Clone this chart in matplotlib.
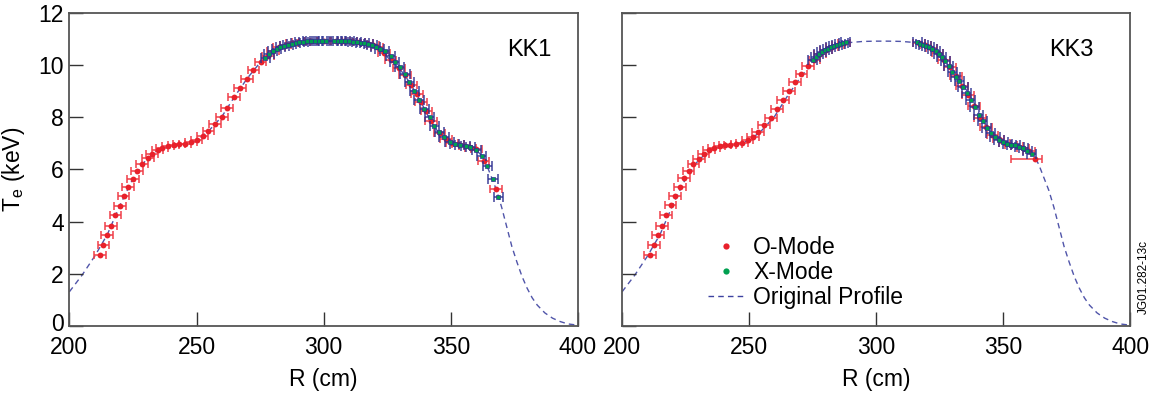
import matplotlib
matplotlib.use("Agg")
import matplotlib.pyplot as plt
from matplotlib.lines import Line2D
from matplotlib.transforms import ScaledTranslation

plt.rcParams['font.family'] = ['Liberation Sans', 'DejaVu Sans']
plt.rcParams['mathtext.default'] = 'regular'

# ---------------- data ----------------
profile_R = [200, 205, 210, 215, 220, 225, 230, 235, 240, 245, 250, 255, 260, 265, 270,
             275, 280, 285, 290, 295, 300, 305, 310, 315, 318, 321, 324, 327, 330, 333,
             336, 339, 342, 345, 348, 351, 354, 357, 360, 362, 364, 366, 368, 370, 372,
             374, 376, 378, 380, 382, 384, 387, 390, 393, 396, 400]
profile_Te = [1.31, 1.95, 2.68, 3.52, 4.65, 5.65, 6.35, 6.77, 6.92, 6.98, 7.10, 7.50, 8.03, 8.80, 9.50,
              10.10, 10.53, 10.77, 10.87, 10.91, 10.92, 10.92, 10.91, 10.87, 10.80, 10.66, 10.42, 10.12, 9.85, 9.45,
              8.98, 8.45, 7.87, 7.44, 7.17, 7.00, 6.93, 6.85, 6.74, 6.55, 6.20, 5.70, 5.20, 4.55, 3.80,
              3.05, 2.45, 1.90, 1.45, 1.08, 0.80, 0.50, 0.30, 0.17, 0.08, 0.03]

# KK1 O-mode
kk1_o_R = [212.0, 213.4, 214.8, 216.4, 218.1, 219.8, 221.3, 223.2, 225.0, 226.7, 228.7, 230.8,
           232.6, 234.7, 236.5, 238.9, 241.0, 243.1, 245.4, 247.8, 250.0, 252.4, 254.7, 257.2,
           259.9, 262.1, 264.7, 267.2, 269.9, 272.4, 275.2, 278.1, 280.2, 282.5, 285.0, 287.5,
           290.0, 292.5, 295.0, 300.0, 305.0, 308.0, 311.0, 314.0, 317.0, 319.5,
           321.0, 323.6, 326.3, 329.5, 332.0, 334.5, 336.8, 338.2, 340.4, 342.1, 345.6, 348.2,
           350.6, 352.8, 355.4, 357.8, 360.1, 362.9, 367.9]
kk1_o_Te = [2.71, 3.10, 3.48, 3.85, 4.24, 4.61, 4.98, 5.31, 5.65, 5.95, 6.21, 6.43,
            6.61, 6.76, 6.84, 6.90, 6.94, 6.97, 6.99, 7.04, 7.13, 7.29, 7.48, 7.73,
            8.03, 8.37, 8.76, 9.12, 9.48, 9.83, 10.12, 10.36, 10.55, 10.68, 10.78, 10.84,
            10.88, 10.90, 10.91, 10.93, 10.93, 10.92, 10.91, 10.88, 10.84, 10.76,
            10.68, 10.45, 10.18, 9.90, 9.62, 9.24, 8.90, 8.58, 8.24, 7.87, 7.39, 7.17,
            7.03, 6.98, 6.90, 6.83, 6.77, 6.34, 5.26]

# KK1 X-mode
kk1_x_R = [277.0, 278.5, 280.0, 281.5, 283.0, 284.5, 286.0, 287.5, 289.0, 290.5, 292.0, 293.5,
           295.0, 296.5, 298.0, 299.5, 301.0, 304.0, 305.5, 307.0, 308.5, 310.0, 311.5, 313.0,
           314.5, 316.0, 317.5, 319.0, 320.5, 322.0,
           324.0, 326.4, 328.0, 329.9, 332.0, 333.7, 335.7, 337.5, 339.5, 341.7, 343.5, 345.4,
           347.3, 349.6, 351.5, 353.5, 355.9, 357.7, 360.1, 362.1, 364.3, 366.6, 368.6]
kk1_x_Te = [10.28, 10.42, 10.53, 10.62, 10.68, 10.74, 10.79, 10.83, 10.86, 10.88, 10.90, 10.91,
            10.92, 10.92, 10.93, 10.93, 10.93, 10.93, 10.93, 10.92, 10.92, 10.91, 10.90, 10.88,
            10.86, 10.84, 10.80, 10.76, 10.70, 10.63,
            10.56, 10.36, 10.14, 9.93, 9.67, 9.34, 9.02, 8.67, 8.31, 8.00, 7.67, 7.42,
            7.24, 7.05, 6.98, 6.94, 6.90, 6.85, 6.75, 6.53, 6.15, 5.62, 4.96]

# KK3 O-mode
kk3_o_R = [211.1, 212.5, 214.2, 215.7, 217.4, 219.1, 220.9, 222.7, 224.4, 226.2, 228.1, 230.2,
           232.1, 234.1, 236.1, 238.4, 240.4, 242.6, 245.0, 247.2, 249.4, 251.5, 253.6, 256.0,
           258.6, 261.0, 263.3, 265.8, 268.2, 270.6, 273.2, 275.7, 277.8, 280.2, 282.6, 285.0, 287.4,
           317.0, 319.4, 321.8, 324.2, 326.6, 329.0, 331.4, 333.8, 336.2, 338.6, 341.0, 343.4,
           345.8, 348.2, 350.6, 353.0, 355.4, 357.8, 360.2, 362.6]
kk3_o_Te = [2.74, 3.11, 3.48, 3.85, 4.25, 4.62, 4.98, 5.33, 5.66, 5.95, 6.21, 6.42,
            6.61, 6.75, 6.84, 6.90, 6.92, 6.95, 6.98, 7.02, 7.13, 7.26, 7.44, 7.69,
            7.99, 8.31, 8.67, 8.99, 9.34, 9.67, 9.95, 10.21, 10.44, 10.59, 10.70, 10.79, 10.85,
            10.85, 10.76, 10.64, 10.46, 10.20, 9.92, 9.58, 9.22, 8.84, 8.43, 7.99, 7.62,
            7.34, 7.15, 7.02, 6.95, 6.90, 6.82, 6.70, 6.39]
kk3_o_err_lo = [2.3] * 56 + [9.6]
kk3_o_err_hi = [2.3] * 56 + [2.6]

# KK3 X-mode
kk3_x_R = [275.0, 276.2, 277.4, 278.6, 279.8, 281.0, 282.2, 283.4, 284.6, 285.8, 287.0, 288.0,
           316.2, 317.4, 318.6, 319.8, 321.0, 322.2, 323.4, 324.6, 325.8, 327.2, 328.6, 330.0,
           331.4, 332.8, 334.2, 335.6, 337.2, 338.8, 340.4, 342.0, 343.6, 345.2, 346.8, 348.4,
           350.0, 351.6, 353.2, 354.8, 356.4, 358.0, 359.6, 361.2]
kk3_x_Te = [10.20, 10.32, 10.42, 10.50, 10.57, 10.63, 10.68, 10.73, 10.77, 10.81, 10.84, 10.87,
            10.87, 10.83, 10.79, 10.74, 10.68, 10.62, 10.54, 10.43, 10.30, 10.15, 9.97, 9.75,
            9.55, 9.38, 9.15, 8.93, 8.66, 8.39, 8.09, 7.84, 7.58, 7.39, 7.26, 7.14,
            7.04, 6.99, 6.95, 6.92, 6.88, 6.81, 6.72, 6.60]

o_err = 2.3
x_err = 1.8

x_ticks = [200, 250, 300, 350, 400]
y_ticks = [0, 2, 4, 6, 8, 10, 12]

RED = '#e8212b'
RED_BAR = '#f0404a'
GREEN = '#00a050'
NAVY = '#2e3192'
DASH = '#3d42a0'

FS = 16.5

fig = plt.figure(figsize=(11.52, 3.96), dpi=100)
ax1 = fig.add_axes([0.0602, 0.1768, 0.4415, 0.7904])
ax2 = fig.add_axes([0.5400, 0.1768, 0.4410, 0.7904])


def draw(ax, oR, oT, oerr, xR, xT):
    ax.plot(profile_R, profile_Te, linestyle=(0, (4, 3)), color=DASH, lw=1.0, zorder=1, alpha=0.9)
    ax.errorbar(oR, oT, xerr=oerr, fmt='none', ecolor=RED_BAR, elinewidth=1.3, capsize=3,
                capthick=1.3, alpha=0.85, zorder=2)
    ax.plot(oR, oT, 'o', color=RED, ms=4.2, mec='none', zorder=3)
    ax.errorbar(xR, xT, xerr=x_err, fmt='none', ecolor=NAVY, elinewidth=1.2, capsize=3.5,
                capthick=1.2, alpha=0.85, zorder=4)
    ax.plot(xR, xT, 's', color=GREEN, ms=3.4, mec=NAVY, mew=0.5, zorder=5)


draw(ax1, kk1_o_R, kk1_o_Te, o_err, kk1_x_R, kk1_x_Te)
draw(ax2, kk3_o_R, kk3_o_Te, [kk3_o_err_lo, kk3_o_err_hi], kk3_x_R, kk3_x_Te)

for ax in (ax1, ax2):
    ax.set_xlim(200, 400)
    ax.set_ylim(0, 12)
    ax.set_xticks(x_ticks)
    ax.set_yticks(y_ticks)
    ax.tick_params(direction='in', length=10, width=1.0, color='#333333', labelsize=FS)
    ax.tick_params(axis='x', pad=7)
    ax.tick_params(axis='y', pad=4)
    for s in ax.spines.values():
        s.set_color('#555555')
        s.set_linewidth(1.3)
    ax.set_xlabel('R (cm)', fontsize=FS, labelpad=7)

ax2.set_yticklabels([])
ax1.set_ylabel('T$_{e}$ (keV)', fontsize=FS, labelpad=8)

# lift the "0" label slightly so it clears the "200" below it
zero_lab = ax1.yaxis.get_major_ticks()[0].label1
zero_lab.set_transform(zero_lab.get_transform() + ScaledTranslation(0, 3 / 72, fig.dpi_scale_trans))

ax1.text(0.905, 0.882, 'KK1', transform=ax1.transAxes, fontsize=17, ha='center', va='center')
ax2.text(0.885, 0.882, 'KK3', transform=ax2.transAxes, fontsize=17, ha='center', va='center')

handles = [Line2D([], [], linestyle='none', marker='o', color=RED, ms=4.5, mec='none'),
           Line2D([], [], linestyle='none', marker='o', color=GREEN, ms=4.5, mec='none'),
           Line2D([], [], linestyle=(0, (4, 3)), color=DASH, lw=1.0)]
ax2.legend(handles, ['O-Mode', 'X-Mode', 'Original Profile'], loc='lower left',
           bbox_to_anchor=(0.17, 0.055), frameon=False, fontsize=FS, handlelength=1.5,
           handletextpad=0.45, labelspacing=0.08, borderaxespad=0, borderpad=0)

fig.text(0.9925, 0.30, 'JG01.282-13c', rotation=90, fontsize=8.5, ha='center', va='center')

fig.savefig('out.png', dpi=100)
